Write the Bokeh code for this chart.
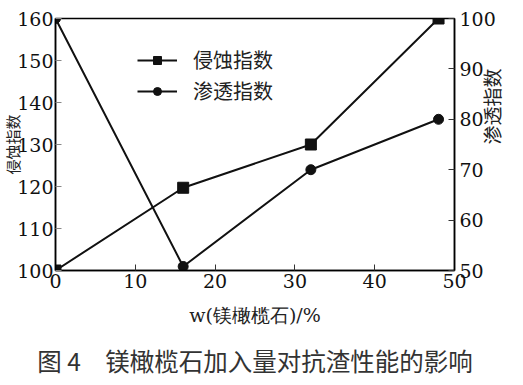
import math
from bokeh.plotting import figure
from bokeh.models import Range1d, LinearAxis, Legend, LegendItem, Title, FixedTicker
from bokeh.embed import file_html
from bokeh.resources import INLINE

# ---- data ----
x_content = [0, 16, 32, 48]                 # w(镁橄榄石)/%
erosion_index = [100, 119.7, 130, 160]      # 侵蚀指数 (left axis)
penetration_index = [100, 50.8, 70, 80]     # 渗透指数 (right axis)
x_ticks = [0, 10, 20, 30, 40, 50]
left_ticks = [100, 110, 120, 130, 140, 150, 160]
right_ticks = [50, 60, 70, 80, 90, 100]

series_names = ["侵蚀指数", "渗透指数"]
x_label = "w(镁橄榄石)/%"
caption = "图 4\u3000镁橄榄石加入量对抗渣性能的影响"

SERIF = "DejaVu Serif"
CJK = "Noto Sans CJK SC"

p = figure(frame_width=399, frame_height=252, output_backend="svg",
           toolbar_location=None,
           x_range=Range1d(x_ticks[0], x_ticks[-1]),
           y_range=Range1d(left_ticks[0], left_ticks[-1]),
           min_border_left=57, min_border_right=0,
           min_border_top=18, min_border_bottom=0)
p.styles = {"margin-left": "-2px"}
p.extra_y_ranges = {"right": Range1d(right_ticks[0], right_ticks[-1])}
p.grid.visible = False
p.outline_line_color = "black"
p.outline_line_width = 1.5
p.outline_line_alpha = 1
p.background_fill_color = "white"
p.border_fill_color = "white"

raxis = LinearAxis(y_range_name="right", ticker=FixedTicker(ticks=right_ticks))
p.add_layout(raxis, "right")
p.xaxis.ticker = FixedTicker(ticks=x_ticks)
p.yaxis[0].ticker = FixedTicker(ticks=left_ticks)

for ax in [p.xaxis[0], p.yaxis[0], raxis]:
    ax.major_label_text_font = SERIF
    ax.major_label_text_font_size = "19px"
    ax.major_label_text_color = "#111111"
    ax.major_tick_in = 6
    ax.major_tick_out = 0
    ax.minor_tick_line_color = None
    ax.axis_line_color = "black"
    ax.axis_line_width = 1.5
    ax.major_tick_line_color = "#333333"
    ax.major_tick_line_width = 1
    ax.axis_label_text_font_style = "normal"
    ax.axis_label_text_color = "#222222"
p.yaxis[0].major_tick_line_color = "#888888"
p.xaxis[0].major_label_standoff = 3
p.yaxis[0].major_label_standoff = 2
raxis.major_label_standoff = 5

p.yaxis[0].axis_label = series_names[0]
p.yaxis[0].axis_label_text_font = CJK
p.yaxis[0].axis_label_text_font_size = "15px"
p.yaxis[0].axis_label_standoff = -9

raxis.axis_label = series_names[1]
raxis.axis_label_text_font = CJK
raxis.axis_label_text_font_size = "19px"
raxis.axis_label_standoff = -7
raxis.axis_label_orientation = math.pi / 2

p.xaxis[0].axis_label = x_label
p.xaxis[0].axis_label_text_font = SERIF
p.xaxis[0].axis_label_text_font_size = "19px"
p.xaxis[0].axis_label_standoff = 13

l1 = p.line(x_content, erosion_index, line_color="#111111", line_width=2)
s1 = p.scatter(x_content, erosion_index, marker="square", size=11,
               fill_color="#111111", line_color="#111111")
l2 = p.line(x_content, penetration_index, line_color="#111111", line_width=2,
            y_range_name="right")
s2 = p.scatter(x_content, penetration_index, marker="circle", size=10,
               fill_color="#111111", line_color="#111111", y_range_name="right")

legend = Legend(items=[LegendItem(label=series_names[0], renderers=[l1, s1]),
                       LegendItem(label=series_names[1], renderers=[l2, s2])],
                location=(82, 165), orientation="vertical",
                glyph_width=40, glyph_height=20, label_height=20,
                label_standoff=16, spacing=2, padding=0, margin=0,
                label_text_font=CJK, label_text_font_size="20px",
                label_text_color="#222222",
                border_line_alpha=0, background_fill_alpha=0)
p.add_layout(legend, "center")

p.add_layout(Title(text=caption, align="center", offset=-8, standoff=25,
                   text_font=CJK, text_font_size="24.5px",
                   text_font_style="normal", text_color="#333333"), "below")

open("out.html", "w").write(file_html(p, INLINE))
